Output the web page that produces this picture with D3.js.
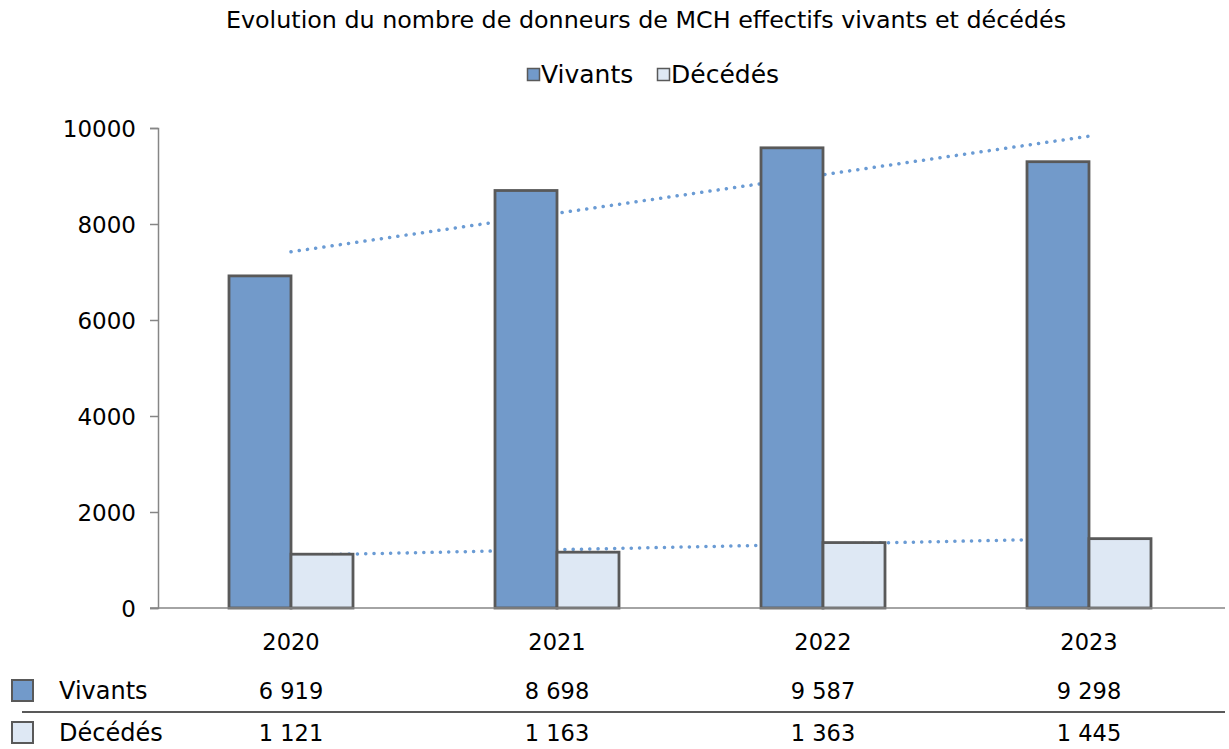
<!DOCTYPE html>
<html>
<head>
<meta charset="utf-8">
<script src="https://cdn.jsdelivr.net/npm/d3@7"></script>
<style>
  body { margin: 0; background: #fff; }
  text { font-family: "DejaVu Sans", Verdana, sans-serif; fill: #000; }
</style>
</head>
<body>
<svg id="chart" width="1229" height="749"></svg>
<script>
// chart data
var years = ["2020", "2021", "2022", "2023"];
var vivants = [6919, 8698, 9587, 9298];
var decedes = [1121, 1163, 1363, 1445];
var seriesNames = ["Vivants", "Décédés"];
var yTicks = [0, 2000, 4000, 6000, 8000, 10000];

var colors = ["#729aca", "#dee8f4"];
var trendColor = "#6a9bd4";

var svg = d3.select("#chart");
var plotLeft = 158, plotRight = 1222, plotTop = 128, plotBottom = 608;

var x = d3.scaleBand().domain(years).range([plotLeft, plotRight]);
var y = d3.scaleLinear().domain([0, 10000]).range([plotBottom, plotTop]);

// title
svg.append("text")
    .attr("x", 646).attr("y", 28)
    .attr("text-anchor", "middle")
    .style("font-size", "23.8px")
    .text("Evolution du nombre de donneurs de MCH effectifs vivants et décédés");

// legend
var legX = [527, 657];
seriesNames.forEach(function(n, i){
    var g = svg.append("g").attr("transform", "translate(" + legX[i] + ",0)");
    g.append("rect").attr("x", 0.5).attr("y", 68.5).attr("width", 12).attr("height", 12)
        .attr("fill", colors[i]).attr("stroke", "#595959").attr("stroke-width", 1.5);
    g.append("text").attr("x", 14).attr("y", 83).style("font-size", "25px").text(n);
});

// y axis
var yAxis = d3.axisLeft(y).tickValues(yTicks).tickSize(8).tickPadding(14).tickFormat(d3.format("d"));
var ya = svg.append("g").attr("transform", "translate(" + plotLeft + ",0)").call(yAxis);
ya.select(".domain").attr("stroke", "#868686").attr("stroke-width", 1.5);
ya.selectAll(".tick line").attr("stroke", "#868686").attr("stroke-width", 1.5);
ya.selectAll(".tick text").style("font-size", "23px").attr("fill", "#000")
    .attr("dy", "0.35em")
    .style("font-family", "DejaVu Sans, Verdana, sans-serif");

// trendlines (linear regression), drawn behind bars
function trend(vals){
    var n = vals.length, mx = (n + 1) / 2, my = d3.mean(vals);
    var num = 0, den = 0;
    vals.forEach(function(v, i){ num += (i + 1 - mx) * (v - my); den += (i + 1 - mx) * (i + 1 - mx); });
    var s = num / den;
    return [1, n].map(function(k){ return { k: k, v: my + s * (k - mx) }; });
}
var cx = function(k){ return x(years[k - 1]) + x.bandwidth() / 2; };
[vivants, decedes].forEach(function(vals){
    var t = trend(vals);
    svg.append("line")
        .attr("x1", cx(t[0].k)).attr("y1", y(t[0].v))
        .attr("x2", cx(t[1].k)).attr("y2", y(t[1].v))
        .attr("stroke", trendColor).attr("stroke-width", 3.5)
        .attr("stroke-linecap", "round")
        .attr("stroke-dasharray", "0.1 8.2");
});

// bars
var barW = 62;
[vivants, decedes].forEach(function(vals, si){
    svg.selectAll(".bar" + si).data(vals).enter().append("rect")
        .attr("class", "bar" + si)
        .attr("x", function(d, i){ return x(years[i]) + x.bandwidth() / 2 - barW + si * barW; })
        .attr("y", function(d){ return y(d); })
        .attr("width", barW)
        .attr("height", function(d){ return y(0) - y(d); })
        .attr("fill", colors[si])
        .attr("stroke", "#595959").attr("stroke-width", 2.8);
});

// x axis line
svg.append("line").attr("x1", plotLeft - 8).attr("x2", 1225).attr("y1", plotBottom).attr("y2", plotBottom)
    .attr("stroke", "#868686").attr("stroke-width", 1.5);

// category labels
svg.selectAll(".xlab").data(years).enter().append("text")
    .attr("x", function(d){ return x(d) + x.bandwidth() / 2; })
    .attr("y", 650).attr("text-anchor", "middle").style("font-size", "22.5px")
    .text(function(d){ return d; });

// data table
var fmt = function(v){ return d3.format(",")(v).replace(/,/g, " "); };
var rowY = [699, 741];
[vivants, decedes].forEach(function(vals, si){
    svg.append("rect").attr("x", 12).attr("y", rowY[si] - 19).attr("width", 21).attr("height", 21)
        .attr("fill", colors[si]).attr("stroke", "#595959").attr("stroke-width", 2);
    svg.append("text").attr("x", 59).attr("y", rowY[si]).style("font-size", "24px").text(seriesNames[si]);
    svg.selectAll(".val" + si).data(vals).enter().append("text")
        .attr("x", function(d, i){ return x(years[i]) + x.bandwidth() / 2; })
        .attr("y", rowY[si]).attr("text-anchor", "middle").style("font-size", "22.5px")
        .text(function(d){ return fmt(d); });
});
svg.append("line").attr("x1", 22).attr("x2", 1225).attr("y1", 712).attr("y2", 712)
    .attr("stroke", "#595959").attr("stroke-width", 2);
</script>
</body>
</html>
